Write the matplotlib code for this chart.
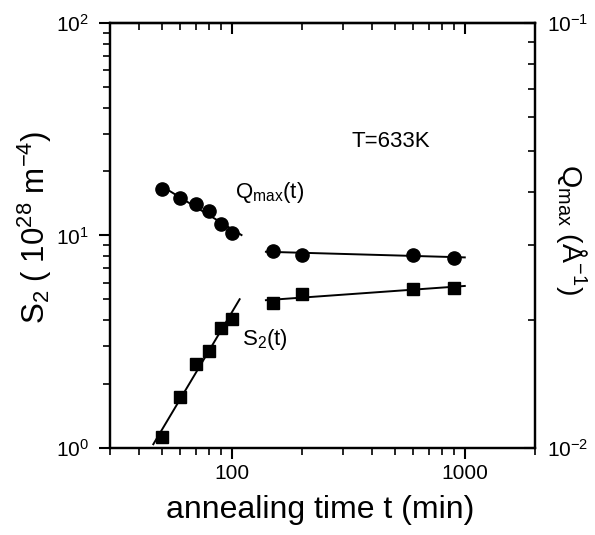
import matplotlib
matplotlib.use("Agg")
import matplotlib.pyplot as plt
import numpy as np
from matplotlib.ticker import LogLocator, FuncFormatter, NullFormatter

plt.rcParams['font.family'] = ['Liberation Sans', 'DejaVu Sans']
plt.rcParams['mathtext.fontset'] = 'custom'
plt.rcParams['mathtext.rm'] = 'Liberation Sans'
plt.rcParams['mathtext.it'] = 'Liberation Sans'
plt.rcParams['mathtext.bf'] = 'Liberation Sans:bold'

# annealing times (min)
t_early = [50, 60, 70, 80, 90, 100]
t_late = [150, 200, 600, 900]

# S2 (10^28 m^-4), left axis
s2_early = [1.13, 1.74, 2.48, 2.86, 3.67, 4.05]
s2_late = [4.81, 5.3, 5.6, 5.66]

# Qmax (1/Angstrom), right axis
q_early = [0.0407, 0.0388, 0.0375, 0.0361, 0.0337, 0.0321]
q_late = [0.0291, 0.0285, 0.0285, 0.0280]

# ranges of the power-law fit lines
s2_fit_early = (46, 108)
q_fit_early = (50, 110)
fit_late = (140, 1000)


def fit_line(t, y, rng):
    p = np.polyfit(np.log10(t), np.log10(y), 1)
    xs = np.array(rng, dtype=float)
    return xs, 10 ** np.polyval(p, np.log10(xs))


fig = plt.figure(figsize=(5.95, 5.35), dpi=100)
ax = fig.add_axes([0.185, 0.163, 0.714, 0.794])
ax2 = ax.twinx()

for a in (ax, ax2):
    for s in a.spines.values():
        s.set_linewidth(1.6)

ax.set_xscale('log')
ax.set_yscale('log')
ax.set_xlim(30, 2000)
ax.set_ylim(1, 100)
ax2.set_yscale('log')
ax2.set_ylim(0.01, 0.1)

# S2 squares + fits
ax.plot(t_early, s2_early, 's', color='black', ms=9)
ax.plot(t_late, s2_late, 's', color='black', ms=9)
for t, y, r in [(t_early, s2_early, s2_fit_early), (t_late, s2_late, fit_late)]:
    xs, ys = fit_line(t, y, r)
    ax.plot(xs, ys, '-', color='black', lw=1.4)

# Qmax circles + fits
ax2.plot(t_early, q_early, 'o', color='black', ms=9.5)
ax2.plot(t_late, q_late, 'o', color='black', ms=9.5)
for t, y, r in [(t_early, q_early, q_fit_early), (t_late, q_late, fit_late)]:
    xs, ys = fit_line(t, y, r)
    ax2.plot(xs, ys, '-', color='black', lw=1.4)

logfmt = FuncFormatter(lambda v, p: r'$\mathregular{10^{%d}}$' % round(np.log10(v)))

ax.xaxis.set_major_locator(LogLocator(base=10, numticks=10))
ax.xaxis.set_major_formatter(FuncFormatter(lambda v, p: '%d' % v))
ax.xaxis.set_minor_formatter(NullFormatter())
ax.yaxis.set_major_formatter(logfmt)
ax.yaxis.set_minor_formatter(NullFormatter())
ax2.yaxis.set_major_formatter(logfmt)
ax2.yaxis.set_minor_formatter(NullFormatter())

ax.tick_params(axis='both', which='major', direction='out', length=8, width=1.5,
               labelsize=15, pad=4)
ax.tick_params(axis='both', which='minor', direction='out', length=5, width=1.2)
ax.tick_params(axis='y', which='major', pad=7)
ax2.tick_params(axis='y', which='major', direction='in', length=8, width=1.5,
                labelsize=15, pad=9)
ax2.tick_params(axis='y', which='minor', direction='in', length=5, width=1.2)

top = ax.secondary_xaxis('top')
top.tick_params(axis='x', which='major', direction='in', length=8, width=1.5, labeltop=False)
top.tick_params(axis='x', which='minor', direction='in', length=5, width=1.2)
top.spines['top'].set_linewidth(1.6)

ax.set_xlabel('annealing time t (min)', fontsize=23, ha='center', va='center')
ax.xaxis.set_label_coords(0.494, -0.146)
ax.set_ylabel(r'S$_2$ ( 10$^{28}$ m$^{-4}$)', fontsize=22.5, ha='center', va='center')
ax.yaxis.set_label_coords(-0.176, 0.52)
ax2.set_ylabel(r'Q$_{max}$ (Å$^{-1}$)', fontsize=20.5, rotation=270, ha='center', va='center')
ax2.yaxis.set_label_coords(1.087, 0.515)

ax.text(0.293, 0.60, r'Q$_{max}$(t)', transform=ax.transAxes, fontsize=16, va='center')
ax.text(0.31, 0.254, r'S$_2$(t)', transform=ax.transAxes, fontsize=16, va='center')
ax.text(0.569, 0.722, 'T=633K', transform=ax.transAxes, fontsize=16, va='center')

fig.savefig('out.png', dpi=100)
